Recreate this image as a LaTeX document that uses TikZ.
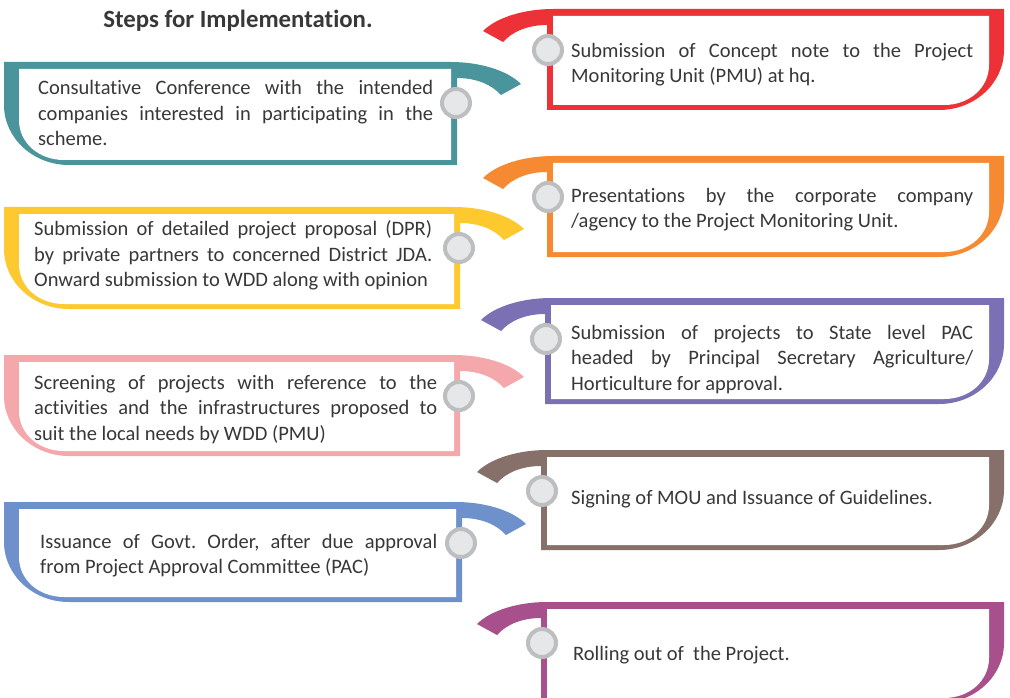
\documentclass[tikz,border=0pt]{standalone}
\usepackage{fontspec}
\setmainfont[Ligatures={NoCommon}]{Carlito}
\frenchspacing

\definecolor{stepred}{HTML}{ED3237}
\definecolor{stepteal}{HTML}{4A959C}
\definecolor{steporange}{HTML}{F68A33}
\definecolor{stepyellow}{HTML}{FEC92E}
\definecolor{steppurple}{HTML}{7B70B4}
\definecolor{steppink}{HTML}{F5A8AB}
\definecolor{stepbrown}{HTML}{867069}
\definecolor{stepblue}{HTML}{6F91CB}
\definecolor{stepmagenta}{HTML}{A8508B}
\definecolor{dotfill}{HTML}{E6E7E8}
\definecolor{dotring}{HTML}{BCBEC0}
\definecolor{bodytext}{HTML}{383838}

% Frame with a hooked tail at the top left and a swept bottom-right corner.
% #1 colour, #2 left edge of the bar, #3 top, #4 bottom, #5 right edge, #6 name of the dot
\newcommand\stepframe[6]{%
  \fill[#1] (#2-64,#3+22) .. controls (#2-50,#3+8) and (#2-22,#3) .. (#2+6,#3)
    -- (#5,#3) -- (#5,#4-60)
    .. controls (#5,#4-27) and (#5-29,#4) .. (#5-65,#4)
    -- (#2,#4) -- (#2,#3+16)
    .. controls (#2-20,#3+16) and (#2-35,#3+23) .. (#2-44,#3+33) -- cycle;
  \fill[white] (#2+6,#3+7) -- (#5-15,#3+7) -- (#5-15,#4-45)
    .. controls (#5-15,#4-22) and (#5-35,#4-5) .. (#5-60,#4-5)
    -- (#2+6,#4-5) -- cycle;
  \node[stepdot] (#6) at (#2+1,#3+41) {};
}

% Text block: lines stacked on a fixed baseline distance
\newcommand\framelines[1]{\vtop{\baselineskip=25.5pt\lineskiplimit=-100pt\lineskip=0pt #1}}
\newcommand\jline[2]{\hbox to #1{#2}}
\newcommand\nline[1]{\hbox{#1}}

\begin{document}
\begin{tikzpicture}[x=1pt,y=-1pt,
  stepdot/.style={circle,fill=dotfill,draw=dotring,line width=4pt,minimum size=28pt,inner sep=0pt},
  steptext/.style={anchor=base west,inner sep=0pt,text=bodytext,font=\fontsize{20.5}{25.5}\selectfont},
  titletext/.style={anchor=base,inner sep=0pt,text=bodytext,font=\fontsize{24.8}{29}\selectfont\bfseries}]
\useasboundingbox (0,0) rectangle (1010,698);
\fill[white] (0,0) rectangle (1010,698);

% right-hand column
\stepframe{stepred}{547}{9}{110}{1004}{d1}
\stepframe{steporange}{547}{156}{257}{1004}{d3}
\stepframe{steppurple}{545}{298}{404}{1004}{d5}
\stepframe{stepbrown}{541}{450}{550}{1004}{d7}
\stepframe{stepmagenta}{541}{602}{703}{1004}{d9}

% left-hand column, mirrored
\begin{scope}[shift={(1008,0)},xscale=-1]
\stepframe{stepteal}{551}{62}{165}{1004}{d2}
\stepframe{stepyellow}{548}{207}{309}{1004}{d4}
\stepframe{steppink}{548}{355}{456}{1004}{d6}
\stepframe{stepblue}{546}{502}{602}{1004}{d8}
\end{scope}

\node[titletext] (title) at (238,28) {Steps for Implementation.};

\node[steptext] (s1) at (571,57.5) {\framelines{%
  \jline{402pt}{Submission of Concept note to the Project}%
  \nline{Monitoring Unit (PMU) at hq.}}};
\node[steptext] (s2) at (38,95) {\framelines{%
  \jline{395pt}{Consultative Conference with the intended}%
  \jline{395pt}{companies interested in participating in the}%
  \nline{scheme.}}};
\node[steptext] (s3) at (571,202) {\framelines{%
  \jline{402pt}{Presentations by the corporate company}%
  \nline{/agency to the Project Monitoring Unit.}}};
\node[steptext] (s4) at (34,236) {\framelines{%
  \jline{398pt}{Submission of detailed project proposal (DPR)}%
  \jline{398pt}{by private partners to concerned District JDA.}%
  \nline{Onward submission to WDD along with opinion}}};
\node[steptext] (s5) at (571,339) {\framelines{%
  \jline{402pt}{Submission of projects to State level PAC}%
  \jline{402pt}{headed by Principal Secretary Agriculture/}%
  \nline{Horticulture for approval.}}};
\node[steptext] (s6) at (34,389) {\framelines{%
  \jline{403pt}{Screening of projects with reference to the}%
  \jline{403pt}{activities and the infrastructures proposed to}%
  \nline{suit the local needs by WDD (PMU)}}};
\node[steptext] (s7) at (571,504.5) {\framelines{%
  \nline{Signing of MOU and Issuance of Guidelines.}}};
\node[steptext] (s8) at (40,548) {\framelines{%
  \jline{397pt}{Issuance of Govt. Order, after due approval}%
  \nline{from Project Approval Committee (PAC)}}};
\node[steptext] (s9) at (573,660) {\framelines{%
  \nline{Rolling out of~ the Project.}}};
\end{tikzpicture}
\end{document}
